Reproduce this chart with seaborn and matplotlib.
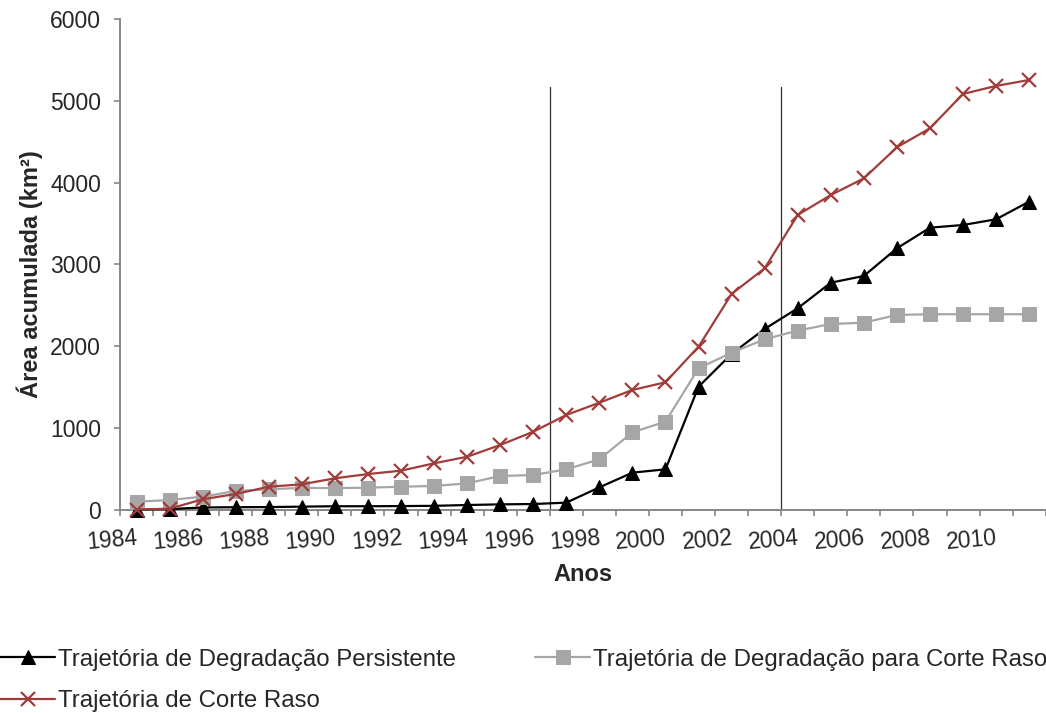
import numpy as np
import pandas as pd
import matplotlib
matplotlib.use("Agg")
import matplotlib.pyplot as plt
import seaborn as sns

# Accumulated area (km²) per year for each trajectory
anos = list(range(1984, 2012))
persistente = [0, 5, 25, 28, 30, 35, 40, 40, 42, 45,
               55, 63, 67, 84, 271, 451, 492, 1503, 1905, 2210,
               2463, 2776, 2858, 3197, 3449, 3482, 3552, 3768]
degradacao_corte = [95, 116, 157, 226, 247, 265, 262, 267, 279, 288,
                    320, 410, 422, 492, 614, 945, 1075, 1728, 1919, 2083,
                    2190, 2270, 2287, 2381, 2390, 2390, 2390, 2390]
corte_raso = [0, 10, 125, 190, 279, 308, 382, 434, 475, 565,
              646, 789, 952, 1157, 1307, 1463, 1557, 1993, 2638, 2952,
              3605, 3849, 4053, 4433, 4666, 5086, 5184, 5257]
marcos = [1997, 2004]          # reference years marked by vertical lines
altura_marcos = 5170

nomes = ["Trajetória de Degradação Persistente",
         "Trajetória de Degradação para Corte Raso",
         "Trajetória de Corte Raso"]

sns.set_style("white")
plt.rcParams["font.family"] = ["Liberation Sans", "DejaVu Sans"]

fig = plt.figure(figsize=(10.46, 7.13), dpi=100)
ax = fig.add_axes([0.1147, 0.2854, 0.885, 0.6876])

pos = np.arange(len(anos))
df = pd.DataFrame({"pos": pos, "p": persistente, "d": degradacao_corte, "c": corte_raso})

gray_axis = "#868686"
red = "#A03C3A"
gray = "#A6A6A6"

sns.lineplot(data=df, x="pos", y="p", ax=ax, color="black", linewidth=1.6,
             marker="^", markersize=10, markeredgecolor="black",
             markerfacecolor="black", label=nomes[0], clip_on=False, zorder=3)
sns.lineplot(data=df, x="pos", y="d", ax=ax, color=gray, linewidth=1.6,
             marker="s", markersize=9.5, markeredgecolor=gray,
             markerfacecolor=gray, label=nomes[1], clip_on=False, zorder=4)
sns.lineplot(data=df, x="pos", y="c", ax=ax, color=red, linewidth=1.6,
             marker="x", markersize=10, markeredgewidth=1.6,
             markeredgecolor=red, markerfacecolor=red,
             label=nomes[2], clip_on=False, zorder=5)

for m in marcos:
    xm = anos.index(m) - 0.5
    ax.plot([xm, xm], [0, altura_marcos], color="#303030", linewidth=0.9, zorder=2)

ax.set_xlim(-0.5, len(anos) - 0.5)
ax.set_ylim(0, 6000)
ax.set_yticks(np.arange(0, 6001, 1000))
ax.set_xticks(pos[::2])
ax.set_xticklabels([str(a) for a in anos[::2]], rotation=5, ha="right",
                   va="top", rotation_mode="anchor")
ax.set_xticks(np.arange(-0.5, len(anos), 1), minor=True)

ax.tick_params(axis="x", which="major", length=0, pad=12, labelsize=16.5)
ax.tick_params(axis="x", which="minor", length=4, width=1.2, color=gray_axis,
               direction="out", bottom=True)
ax.tick_params(axis="y", which="major", length=4.5, width=1.2, color=gray_axis,
               direction="out", left=True, pad=9, labelsize=16.5)

for s in ["top", "right"]:
    ax.spines[s].set_visible(False)
for s in ["left", "bottom"]:
    ax.spines[s].set_color(gray_axis)
    ax.spines[s].set_linewidth(1.4)

ax.set_xlabel("Anos", fontsize=17, fontweight="bold")
ax.set_ylabel("Área acumulada (km²)", fontsize=17, fontweight="bold")
ax.xaxis.set_label_coords(0.5, -0.11)
ax.yaxis.set_label_coords(-0.083, 0.48)

handles, labels = ax.get_legend_handles_labels()
ax.get_legend().remove()
order = [0, 2, 1]
fig.legend([handles[i] for i in order], [labels[i] for i in order],
           loc="upper left", bbox_to_anchor=(0.0, 0.09), ncol=2,
           frameon=False, fontsize=17.3, handlelength=2.3, handletextpad=0.1,
           columnspacing=3.3, labelspacing=0.8, borderpad=0, borderaxespad=0)

fig.savefig("out.png", dpi=100)
